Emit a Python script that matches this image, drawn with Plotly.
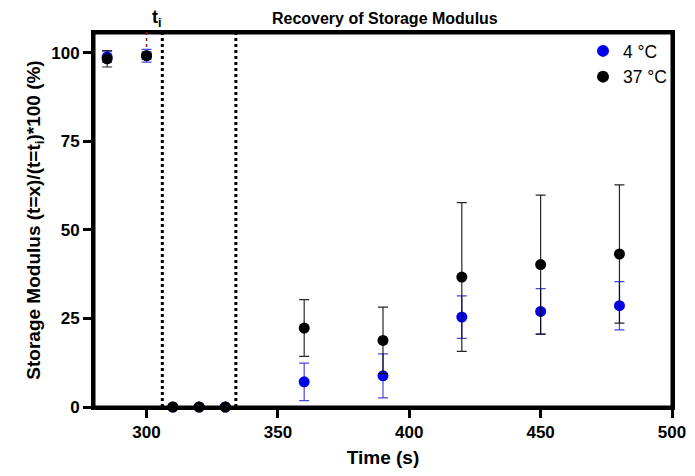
import plotly.graph_objects as go

time_s = [285, 300, 310, 320, 330, 360, 390, 420, 450, 480]
cold_mean = [98.8, 99.2, 0, 0, 0, 7.1, 8.8, 25.4, 27.0, 28.6]
cold_sd = [1.5, 1.8, 0, 0, 0, 5.3, 6.2, 6.0, 6.4, 6.8]
warm_mean = [98.3, 99.2, 0, 0, 0, 22.3, 18.8, 36.7, 40.2, 43.2]
warm_sd = [2.3, 1.0, 0, 0, 0, 8.0, 9.4, 21.0, 19.6, 19.5]
series_names = ["4 °C", "37 °C"]
x_ticks = [300, 350, 400, 450, 500]
y_ticks = [0, 25, 50, 75, 100]
window_start, window_end = 306, 334
t_i = 300

FONT = "Liberation Sans, Arial, sans-serif"
# page body adds an 8px margin; size the figure so it fits the window without overflow
W, H = 679, 460
ML, MR, MT, MB = 86, 15, 25, 61
PH = H - MT - MB

fig = go.Figure()
fig.add_trace(go.Scatter(
    x=time_s, y=cold_mean, mode="markers", name=series_names[0],
    marker=dict(color="#0000ee", size=11),
    error_y=dict(type="data", array=cold_sd, visible=True,
                 color="rgba(40,40,210,0.85)", thickness=1.2, width=5),
    cliponaxis=False,
))
fig.add_trace(go.Scatter(
    x=time_s, y=warm_mean, mode="markers", name=series_names[1],
    marker=dict(color="#000000", size=11),
    error_y=dict(type="data", array=warm_sd, visible=True,
                 color="rgba(0,0,0,0.85)", thickness=1.2, width=5),
    cliponaxis=False,
))

xr = [280, 500]
for xv in (window_start, window_end):
    fig.add_shape(type="line", xref="x", yref="paper", x0=xv, x1=xv, y0=0, y1=1,
                  line=dict(color="black", width=3, dash="dot"), layer="below")

# plot frame
fig.add_shape(type="rect", xref="paper", yref="paper", x0=0, x1=1, y0=0, y1=1,
              line=dict(color="black", width=3))

px = (t_i - xr[0]) / (xr[1] - xr[0])
fig.add_shape(type="line", xref="paper", yref="paper", x0=px, x1=px,
              y0=1 - 14 / PH, y1=1 + 4 / PH,
              line=dict(color="#8b1a1a", width=1.5, dash="dot"))
fig.add_annotation(x=px, xref="paper", y=1 + 1 / PH, yref="paper", yanchor="bottom",
                   xshift=3, text="<b>t<sub>i</sub></b>", showarrow=False,
                   font=dict(family=FONT, size=18, color="black"))

axis_common = dict(showline=True, linecolor="black", linewidth=3, mirror=True,
                   ticks="outside", ticklen=8, tickwidth=3, tickcolor="black",
                   showgrid=False, zeroline=False, automargin=False,
                   ticklabeloverflow="allow",
                   tickfont=dict(family=FONT, size=17, color="black", weight="bold"))

fig.update_layout(
    width=W, height=H,
    margin=dict(l=ML, r=MR, t=MT, b=MB, autoexpand=False),
    paper_bgcolor="white", plot_bgcolor="white",
    title=dict(text="<b>Recovery of Storage Modulus</b>", x=0.555, xanchor="center",
               y=1 - 10 / H, yanchor="middle",
               font=dict(family=FONT, size=16, color="black")),
    xaxis=dict(range=xr, tickvals=x_ticks,
               title=dict(text="<b>Time (s)</b>", standoff=12,
                          font=dict(family=FONT, size=19, color="black")),
               **axis_common),
    yaxis=dict(range=[0, 105.6], tickvals=y_ticks,
               title=dict(text="<b>Storage Modulus (t=x)/(t=t<sub>i</sub>)*100 (%)</b>", standoff=6,
                          font=dict(family=FONT, size=19, color="black")),
               **axis_common),
    legend=dict(x=1.0, y=1.0, xanchor="right", yanchor="top",
                bgcolor="rgba(0,0,0,0)",
                font=dict(family=FONT, size=17.5, color="black"),
                itemsizing="constant", itemwidth=30, tracegroupgap=0),
    showlegend=True,
)

fig.write_html("out.html")
